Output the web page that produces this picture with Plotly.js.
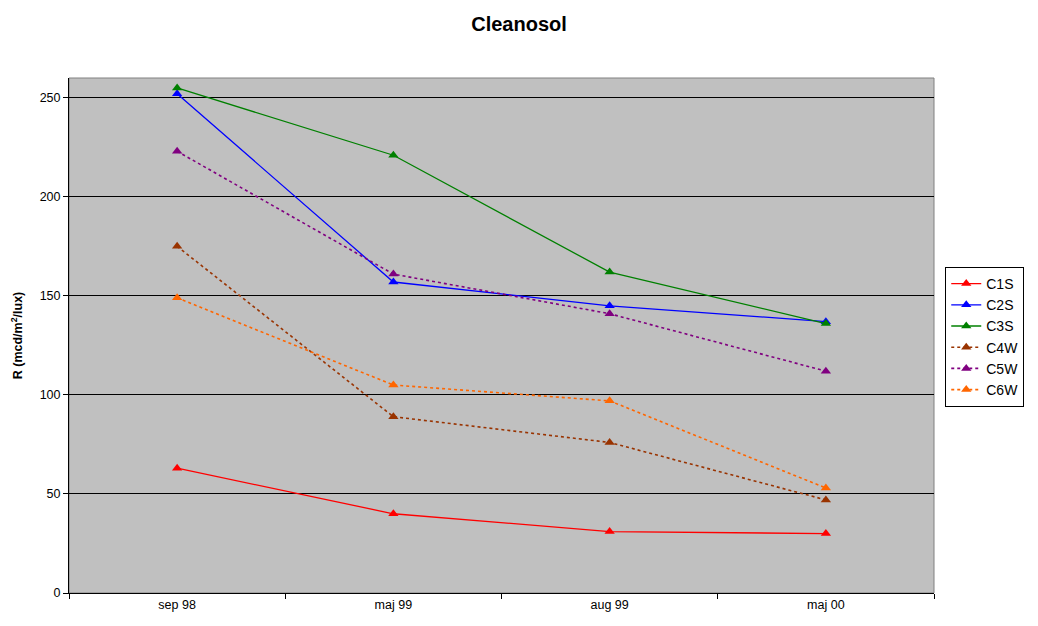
<!DOCTYPE html>
<html>
<head>
<meta charset="utf-8">
<script src="https://cdn.plot.ly/plotly-3.0.1.min.js"></script>
<style>
  html, body { margin: 0; padding: 0; background: #fff; }
  #chart { width: 1038px; height: 626px; }
</style>
</head>
<body>
<div id="chart"></div>
<script>
// categories (measurement dates)
const dates = ['sep 98', 'maj 99', 'aug 99', 'maj 00'];

// R values per sample
const C1S = [63, 40, 31, 30];
const C2S = [252, 157, 145, 137];
const C3S = [255, 221, 162, 136];
const C4W = [175, 89, 76, 47];
const C5W = [223, 161, 141, 112];
const C6W = [149, 105, 97, 53];

const yTicks = [0, 50, 100, 150, 200, 250];

function series(name, values, color, dash) {
  return {
    x: dates,
    y: values,
    name: name,
    type: 'scatter',
    mode: 'lines+markers',
    line: { color: color, width: dash === 'solid' ? 1.3 : 1.6, dash: dash },
    marker: { symbol: 'triangle-up', size: 9, color: color }
  };
}

const traces = [
  series('C1S', C1S, '#ff0000', 'solid'),
  series('C2S', C2S, '#0000ff', 'solid'),
  series('C3S', C3S, '#008000', 'solid'),
  series('C4W', C4W, '#993300', 'dot'),
  series('C5W', C5W, '#800080', 'dot'),
  series('C6W', C6W, '#ff6600', 'dot')
];

const layout = {
  width: 1038,
  height: 626,
  margin: { l: 69, r: 104, t: 78, b: 33, autoexpand: false },
  paper_bgcolor: '#ffffff',
  plot_bgcolor: '#c0c0c0',
  font: { family: '"Liberation Sans", Arial, sans-serif', size: 12, color: '#000' },
  title: {
    text: '<b>Cleanosol</b>',
    font: { size: 20 },
    x: 0.5, xanchor: 'center',
    y: 0.962, yanchor: 'middle'
  },
  xaxis: {
    type: 'category',
    range: [-0.5, 3.5],
    tickson: 'boundaries',
    ticks: 'outside',
    ticklen: 5,
    tickcolor: '#000',
    showline: true,
    linecolor: '#000',
    linewidth: 1,
    showgrid: false,
    zeroline: false,
    tickfont: { size: 12.5 }
  },
  yaxis: {
    range: [0, 260],
    tickvals: yTicks,
    ticks: 'outside',
    ticklen: 5,
    tickcolor: '#000',
    showline: true,
    linecolor: '#000',
    linewidth: 1,
    showgrid: true,
    gridcolor: '#000',
    gridwidth: 1,
    zeroline: false,
    tickfont: { size: 12.5 },
    title: {
      text: '<b>R (mcd/m<sup>2</sup>/lux)</b>',
      font: { size: 12.5 },
      standoff: 14
    }
  },
  shapes: [{
    type: 'rect', xref: 'paper', yref: 'paper',
    x0: 0, x1: 1, y0: 0, y1: 1,
    line: { color: '#808080', width: 1 },
    layer: 'below'
  }],
  showlegend: true,
  legend: {
    x: 1.013, xanchor: 'left',
    y: 0.633, yanchor: 'top',
    bgcolor: '#ffffff',
    bordercolor: '#000',
    borderwidth: 1,
    font: { size: 14 },
    tracegroupgap: 0,
    itemwidth: 30
  }
};

Plotly.newPlot('chart', traces, layout, { displayModeBar: false, staticPlot: true });
</script>
</body>
</html>
